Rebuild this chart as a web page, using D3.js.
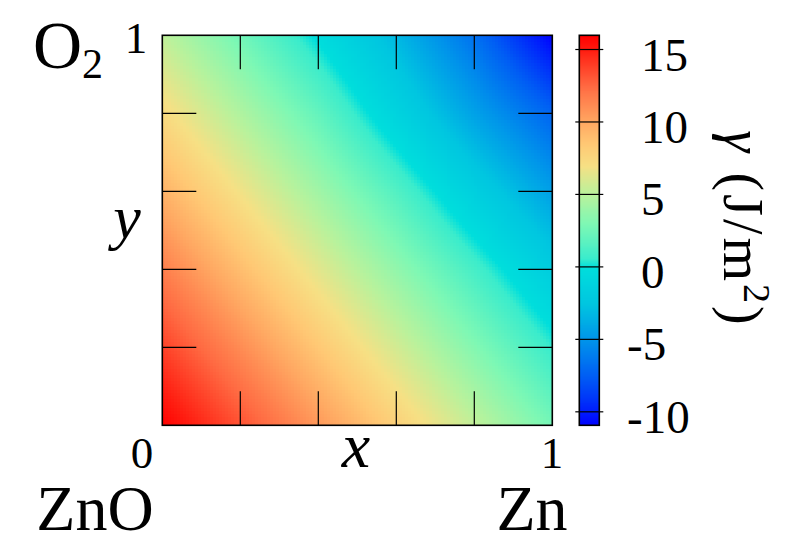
<!DOCTYPE html>
<html>
<head>
<meta charset="utf-8">
<script src="https://cdn.jsdelivr.net/npm/d3@7"></script>
<style>
  html, body { margin: 0; padding: 0; background: #fff; }
  svg { display: block; }
  text { font-family: "Liberation Serif", "DejaVu Serif", serif; fill: #000; }
</style>
</head>
<body>
<svg id="chart" width="799" height="547"></svg>
<script>
// ---------- data ----------
const xNodes = [0, 0.2, 0.4, 0.6, 0.8, 1];
const yNodes = [0, 0.2, 0.4, 0.6, 0.8, 1];
// gamma (J/m^2) read at the grid nodes; rows = y (0 -> 1), cols = x (0 -> 1)
const gammaRow0 = [15.98, 13.33, 10.67, 8.02, 5.36, 2.71];
const gammaRow1 = [13.83, 11.18, 8.53, 5.87, 3.22, 0.55];
const gammaRow2 = [11.69, 9.03, 6.38, 3.73, 1.06, -1.75];
const gammaRow3 = [9.54, 6.89, 4.23, 1.50, -1.50, -4.40];
const gammaRow4 = [7.40, 4.74, 2.09, -1.10, -4.30, -7.20];
const gammaRow5 = [5.25, 2.60, -0.20, -3.20, -6.60, -10.93];
const gammaGrid = [gammaRow0, gammaRow1, gammaRow2, gammaRow3, gammaRow4, gammaRow5];

const axisTicks = [0.2, 0.4, 0.6, 0.8];
const cbTicks = [15, 10, 5, 0, -5, -10];
const cbTickLabels = ["15", "10", "5", "0", "-5", "-10"];
const cbRange = [-10.93, 15.98];

// colour map stops (value -> colour)
const cmapValues = [-10.93, -10, -7.5, -5, -2.5, 0, 0.6, 3, 5, 7, 8.5, 10, 12.5, 15, 15.98];
const cmapColors = ["#0000ff", "#001cfc", "#005ef4", "#0094ea", "#00c6e0", "#00dedc", "#3aeccc",
                    "#7ef8b4", "#b8f29c", "#f6e084", "#ffc874", "#ffa862", "#ff6a42", "#ff1c10", "#ff0000"];

// ---------- layout ----------
const svg = d3.select("#chart");
const plot = { left: 162.3, right: 552.3, top: 35.3, bottom: 425.3 };
const xScale = d3.scaleLinear().domain([0, 1]).range([plot.left, plot.right]);
const yScale = d3.scaleLinear().domain([0, 1]).range([plot.bottom, plot.top]);
const color = d3.scaleLinear().domain(cmapValues).range(cmapColors).interpolate(d3.interpolateRgb).clamp(true);

// bilinear shading between the gridded values (pm3d-style interpolation)
function gammaAt(x, y) {
  const n = xNodes.length - 1;
  const i = Math.min(n - 1, Math.floor(x * n));
  const j = Math.min(n - 1, Math.floor(y * n));
  const tx = (x - xNodes[i]) / (xNodes[i + 1] - xNodes[i]);
  const ty = (y - yNodes[j]) / (yNodes[j + 1] - yNodes[j]);
  const g00 = gammaGrid[j][i], g10 = gammaGrid[j][i + 1];
  const g01 = gammaGrid[j + 1][i], g11 = gammaGrid[j + 1][i + 1];
  return (g00 * (1 - tx) + g10 * tx) * (1 - ty) + (g01 * (1 - tx) + g11 * tx) * ty;
}

// ---------- heat map ----------
const N = 130;
const cells = [];
for (let j = 0; j < N; j++) for (let i = 0; i < N; i++) {
  cells.push({ x0: i / N, x1: (i + 1) / N, y0: j / N, y1: (j + 1) / N, v: gammaAt((i + 0.5) / N, (j + 0.5) / N) });
}
svg.append("g").attr("shape-rendering", "crispEdges")
  .selectAll("rect").data(cells).join("rect")
  .attr("x", d => xScale(d.x0))
  .attr("y", d => yScale(d.y1))
  .attr("width", d => xScale(d.x1) - xScale(d.x0) + 0.6)
  .attr("height", d => yScale(d.y0) - yScale(d.y1) + 0.6)
  .attr("fill", d => color(d.v));

// ticks (inward, all four sides)
const tickLen = 34;
const tg = svg.append("g").attr("stroke", "#000").attr("stroke-width", 1.2);
tg.selectAll("line.b").data(axisTicks).join("line").attr("class", "b")
  .attr("x1", d => xScale(d)).attr("x2", d => xScale(d))
  .attr("y1", plot.bottom).attr("y2", plot.bottom - tickLen);
tg.selectAll("line.t").data(axisTicks).join("line").attr("class", "t")
  .attr("x1", d => xScale(d)).attr("x2", d => xScale(d))
  .attr("y1", plot.top).attr("y2", plot.top + tickLen);
tg.selectAll("line.l").data(axisTicks).join("line").attr("class", "l")
  .attr("y1", d => yScale(d)).attr("y2", d => yScale(d))
  .attr("x1", plot.left).attr("x2", plot.left + tickLen);
tg.selectAll("line.r").data(axisTicks).join("line").attr("class", "r")
  .attr("y1", d => yScale(d)).attr("y2", d => yScale(d))
  .attr("x1", plot.right).attr("x2", plot.right - tickLen);

svg.append("rect")
  .attr("x", plot.left).attr("y", plot.top)
  .attr("width", plot.right - plot.left).attr("height", plot.bottom - plot.top)
  .attr("fill", "none").attr("stroke", "#000").attr("stroke-width", 1.6);

// axis labels
svg.append("text").attr("x", 142).attr("y", 468).attr("text-anchor", "middle")
  .attr("font-size", 45).text("0");
svg.append("text").attr("x", 552).attr("y", 468).attr("text-anchor", "middle")
  .attr("font-size", 45).text("1");
svg.append("text").attr("x", 136).attr("y", 53).attr("text-anchor", "middle")
  .attr("font-size", 45).text("1");
svg.append("text").attr("x", 356).attr("y", 467).attr("text-anchor", "middle")
  .attr("font-size", 64).attr("font-style", "italic").text("x");
svg.append("text").attr("x", 127).attr("y", 238).attr("text-anchor", "middle")
  .attr("font-size", 62).attr("font-style", "italic").text("y");

// corner species labels
const o2 = svg.append("text").attr("x", 33).attr("y", 68).attr("font-size", 68);
o2.append("tspan").text("O");
o2.append("tspan").attr("font-size", 42).attr("dy", 10).text("2");
svg.append("text").attr("x", 95).attr("y", 530).attr("text-anchor", "middle")
  .attr("font-size", 64).text("ZnO");
svg.append("text").attr("x", 532).attr("y", 530).attr("text-anchor", "middle")
  .attr("font-size", 64).text("Zn");

// ---------- colour bar ----------
const cb = { left: 579.3, right: 599.3 };
const cbScale = d3.scaleLinear().domain(cbRange).range([plot.bottom, plot.top]);
const cbSteps = d3.range(0, 400).map(k => cbRange[0] + (cbRange[1] - cbRange[0]) * k / 400);
const cbStep = (cbRange[1] - cbRange[0]) / 400;
svg.append("g").attr("shape-rendering", "crispEdges")
  .selectAll("rect").data(cbSteps).join("rect")
  .attr("x", cb.left).attr("width", cb.right - cb.left)
  .attr("y", d => cbScale(d + cbStep))
  .attr("height", d => cbScale(d) - cbScale(d + cbStep) + 0.6)
  .attr("fill", d => color(d + cbStep / 2));
svg.append("rect")
  .attr("x", cb.left).attr("y", cbScale(cbRange[1]))
  .attr("width", cb.right - cb.left).attr("height", cbScale(cbRange[0]) - cbScale(cbRange[1]))
  .attr("fill", "none").attr("stroke", "#000").attr("stroke-width", 1.6);
svg.append("g").attr("stroke", "#000").attr("stroke-width", 1.2)
  .selectAll("line").data(cbTicks).join("line")
  .attr("x1", cb.left - 4).attr("x2", cb.right + 4)
  .attr("y1", d => cbScale(d)).attr("y2", d => cbScale(d));
svg.append("g").selectAll("text").data(cbTicks).join("text")
  .attr("x", (d, i) => cbTickLabels[i].startsWith("-") ? 627 : 641)
  .attr("y", d => cbScale(d) + 21)
  .attr("font-size", 47)
  .text((d, i) => cbTickLabels[i]);

// colour bar title
const cbt = svg.append("text")
  .attr("transform", "translate(724,229) rotate(90)")
  .attr("text-anchor", "middle").attr("font-size", 56).attr("letter-spacing", 3);
cbt.append("tspan").attr("font-style", "italic").text("γ");
cbt.append("tspan").text(" (J/m");
cbt.append("tspan").attr("font-size", 38).attr("dy", -20).text("2");
cbt.append("tspan").attr("dy", 20).text(")");
</script>
</body>
</html>
